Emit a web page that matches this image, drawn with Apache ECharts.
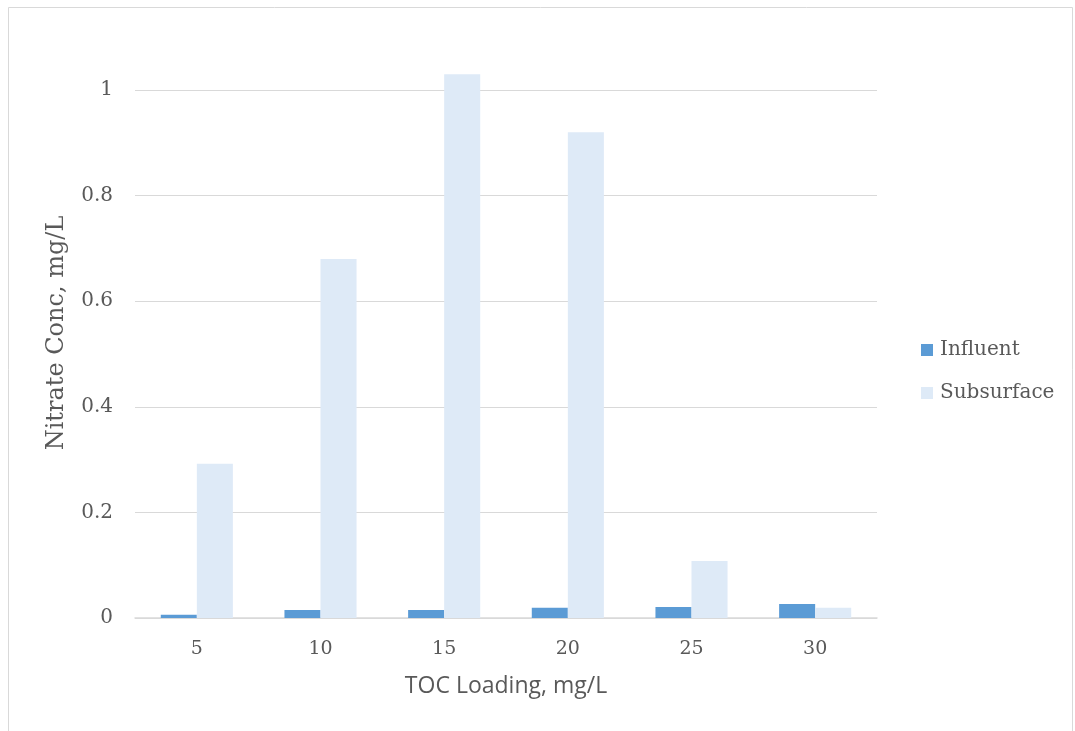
<!DOCTYPE html>
<html>
<head>
<meta charset="utf-8">
<script src="https://cdn.jsdelivr.net/npm/echarts@6/dist/echarts.min.js"></script>
<style>
  html, body { margin: 0; padding: 0; background: #ffffff; }
  #chart { width: 1075px; height: 731px; }
</style>
</head>
<body>
<div id="chart"></div>
<script>
// TOC loading levels (mg/L)
const categories = ['5', '10', '15', '20', '25', '30'];
// Nitrate concentration (mg/L)
const influent = [0.006, 0.015, 0.015, 0.0195, 0.021, 0.0265];
const subsurface = [0.292, 0.680, 1.030, 0.920, 0.108, 0.0195];
const yTicks = [0, 0.2, 0.4, 0.6, 0.8, 1];

const serif = '"DejaVu Serif", "Liberation Serif", serif';
const chart = echarts.init(document.getElementById('chart'), null, { renderer: 'canvas' });

chart.setOption({
  animation: false,
  backgroundColor: '#ffffff',
  graphic: [
    {
      type: 'rect',
      shape: { x: 8.5, y: 7.5, width: 1064, height: 740 },
      style: { fill: 'none', stroke: '#D9D9D9', lineWidth: 1 },
      silent: true
    },
    {
      // vertical axis title
      type: 'text',
      x: 57,
      y: 333,
      rotation: Math.PI / 2,
      style: {
        text: 'Nitrate Conc, mg/L',
        font: '24px ' + serif,
        fill: '#595959',
        align: 'center',
        verticalAlign: 'middle'
      },
      silent: true
    }
  ],
  grid: { left: 135, right: 198, top: 90, bottom: 113, containLabel: false },
  legend: {
    orient: 'vertical',
    left: 916,
    top: 335,
    itemWidth: 12,
    itemHeight: 12,
    itemGap: 23,
    icon: 'rect',
    textStyle: { fontFamily: serif, fontSize: 20, color: '#595959', padding: [0, 0, 0, 2] },
    data: ['Influent', 'Subsurface']
  },
  xAxis: {
    type: 'category',
    data: categories,
    axisLine: { lineStyle: { color: '#D9D9D9', width: 1.5 } },
    axisTick: { show: false },
    axisLabel: { fontFamily: serif, fontSize: 19, color: '#595959', margin: 22 },
    name: 'TOC Loading, mg/L',
    nameLocation: 'middle',
    nameGap: 57,
    nameTextStyle: { fontFamily: '"Open Sans", "Liberation Sans", sans-serif', fontSize: 23, color: '#595959' }
  },
  yAxis: {
    type: 'value',
    min: yTicks[0],
    max: yTicks[yTicks.length - 1],
    interval: 0.2,
    axisLine: { show: false },
    axisTick: { show: false },
    splitLine: { lineStyle: { color: '#D9D9D9', width: 1 } },
    axisLabel: {
      fontFamily: serif, fontSize: 20, color: '#595959', margin: 22,
      formatter: v => String(Math.round(v * 10) / 10)
    }
  },
  series: [
    {
      name: 'Influent',
      type: 'bar',
      data: influent,
      clip: false,
      barGap: '0%',
      barCategoryGap: '41.7%',
      itemStyle: { color: '#5B9BD5' }
    },
    {
      name: 'Subsurface',
      type: 'bar',
      data: subsurface,
      clip: false,
      barGap: '0%',
      barCategoryGap: '41.7%',
      itemStyle: { color: '#DEEAF7' }
    }
  ]
});
</script>
</body>
</html>
